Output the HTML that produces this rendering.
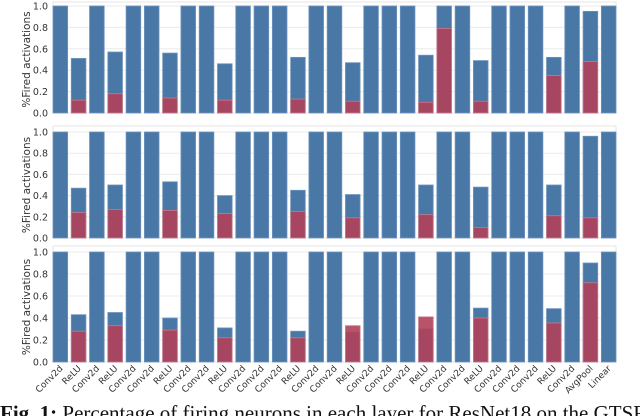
<!DOCTYPE html>
<html><head><meta charset="utf-8">
<style>
html,body{margin:0;padding:0;background:#fff;width:640px;height:416px;overflow:hidden}
svg{display:block}
.sans{font-family:"DejaVu Sans","Liberation Sans",sans-serif}
.serif{font-family:"Liberation Serif",serif}
</style></head>
<body>
<svg id="chart" width="640" height="416" viewBox="0 0 640 416"></svg>
<script>
const categories = ["Conv2d","ReLU","Conv2d","ReLU","Conv2d","Conv2d","ReLU","Conv2d","Conv2d","ReLU","Conv2d","Conv2d","Conv2d","ReLU","Conv2d","Conv2d","ReLU","Conv2d","Conv2d","Conv2d","ReLU","Conv2d","Conv2d","ReLU","Conv2d","Conv2d","Conv2d","ReLU","Conv2d","AvgPool","Linear"];
const blueTop = [1,0.51,1,0.57,1,1,0.56,1,1,0.46,1,1,1,0.52,1,1,0.47,1,1,1,0.54,1,1,0.49,1,1,1,0.52,1,0.95,1];
const redTop  = [0,0.12,0,0.18,0,0,0.14,0,0,0.12,0,0,0,0.13,0,0,0.11,0,0,0,0.10,0.79,0,0.11,0,0,0,0.35,0,0.48,0];
const blueMid = [1,0.47,1,0.50,1,1,0.53,1,1,0.40,1,1,1,0.45,1,1,0.41,1,1,1,0.50,1,1,0.48,1,1,1,0.50,1,0.96,1];
const redMid  = [0,0.24,0,0.27,0,0,0.26,0,0,0.23,0,0,0,0.25,0,0,0.19,0,0,0,0.22,0,0,0.10,0,0,0,0.21,0,0.19,0];
const blueBot = [1,0.43,1,0.45,1,1,0.40,1,1,0.31,1,1,1,0.28,1,1,0.27,1,1,1,0.30,1,1,0.49,1,1,1,0.485,1,0.90,1];
const redBot  = [0,0.28,0,0.33,0,0,0.29,0,0,0.22,0,0,0,0.22,0,0,0.33,0,0,0,0.41,0,0,0.40,0,0,0,0.355,0,0.72,0];
const yTicks = [0,0.2,0.4,0.6,0.8,1.0];

const NS="http://www.w3.org/2000/svg";
const svg=document.getElementById('chart');
function mk(tag,attrs,parent){const e=document.createElementNS(NS,tag);for(const k in attrs)e.setAttribute(k,attrs[k]);(parent||svg).appendChild(e);return e;}
const xL=53,xR=616;
const step=(xR-xL)/(categories.length-0.2);
function xc(i){return xL+step*(0.4+i);}
const bw=step*0.8;

const panels=[
 {name:'top',top:2,y0:113,y1:6,blue:blueTop,red:redTop},
 {name:'middle',top:126,y0:238,y1:132,blue:blueMid,red:redMid},
 {name:'bottom',top:246,y0:362,y1:252,blue:blueBot,red:redBot}
];
panels.forEach(p=>{
  const g=mk('g',{});
  
  
  const ys=v=>p.y0-(p.y0-p.y1)*v;
  const fr=mk('rect',{x:xL,y:p.top,width:xR-xL,height:p.y0-p.top,fill:'none',stroke:'#e6e6e6','stroke-width':1},g);
  
  
  yTicks.forEach(t=>{
    const gl=mk('line',{x1:xL,x2:xR,y1:ys(t),y2:ys(t),stroke:'#ebebeb','stroke-width':1},g);
    
    
    const tl=mk('text',{class:'sans',x:xL-5,y:ys(t)+3.5,'font-size':9.5,fill:'#333','text-anchor':'end'},g);
    tl.textContent=t.toFixed(1);
    
    
  });
  const yl=mk('text',{class:'sans',x:0,y:0,'font-size':10.5,fill:'#333','text-anchor':'middle',transform:`translate(30,${(p.y0+p.y1)/2}) rotate(-90)`},g);
  yl.textContent='%Fired activations';
  
  
  categories.forEach((c,i)=>{
    const b=mk('rect',{x:xc(i)-bw/2,y:ys(p.blue[i]),width:bw,height:ys(0)-ys(p.blue[i]),fill:'#4a78a6',stroke:'#6d93bd','stroke-width':0.8},g);
    
    
    if(p.red[i]>0){
      const r=mk('rect',{x:xc(i)-bw/2,y:ys(p.red[i]),width:bw,height:ys(0)-ys(p.red[i]),fill:'#b0405a','fill-opacity':0.9,stroke:'#c9798a','stroke-width':0.8},g);
      
      
    }
  });
});
categories.forEach((c,i)=>{
  const x=xc(i)+3,y=369;
  const t=mk('text',{class:'sans',x:x,y:y,'font-size':9,fill:'#333','text-anchor':'end',transform:`rotate(-45 ${x} ${y})`});
  t.textContent=c;
  
  
});
const cap=mk('text',{class:'serif',x:0,y:420,'font-size':21,fill:'#111'});
cap.innerHTML='<tspan font-weight="bold">Fig. 1:</tspan> Percentage of firing neurons in each layer for ResNet18 on the GTSRB';


</script>
</body></html>
